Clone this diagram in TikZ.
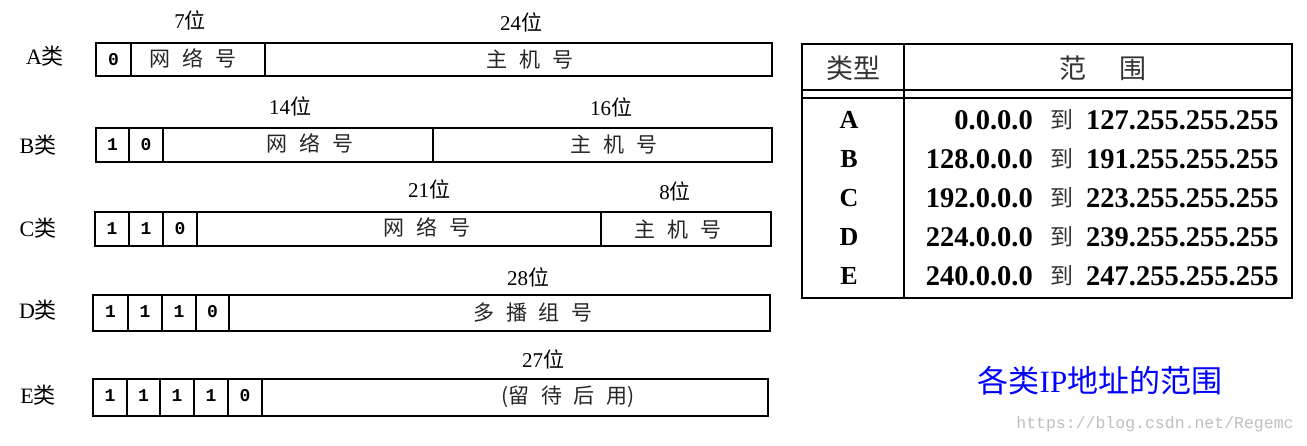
\documentclass[tikz,border=0pt]{standalone}
\usepackage{fontspec}
\setmainfont{Liberation Serif}
\newfontfamily\cjk{Noto Sans CJK SC}
\newfontfamily\monof{Liberation Mono}
\newcommand{\gap}{\hspace{0.55em}}
\begin{document}
\begin{tikzpicture}[x=1pt,y=-1pt,
  rowbox/.style={draw=black,line width=1.8pt},
  celldiv/.style={draw=black,line width=1.3pt},
  bitcell/.style={font=\monof\bfseries\fontsize{18}{18}\selectfont,inner sep=0pt},
  bitlbl/.style={font=\fontsize{21}{21}\selectfont,inner sep=0pt},
  fieldtxt/.style={font=\cjk\fontsize{21}{21}\selectfont,inner sep=0pt,text=black!85},
  classlbl/.style={font=\fontsize{22}{22}\selectfont,inner sep=0pt},
  tabline/.style={draw=black,line width=2.4pt},
  tabhead/.style={font=\cjk\fontsize{27}{27}\selectfont,inner sep=0pt,text=black!80},
  tabletter/.style={font=\bfseries\fontsize{26}{26}\selectfont,inner sep=0pt},
  tabnum/.style={font=\bfseries\fontsize{28.5}{28.5}\selectfont,inner sep=0pt},
  tabto/.style={font=\cjk\fontsize{23}{23}\selectfont,inner sep=0pt,text=black!80}
]
\useasboundingbox (0,0) rectangle (1307,445);
\fill[white] (0,0) rectangle (1307,445);

% ---------- Class labels ----------
\node[classlbl] (lA) at (45,56) {A{\cjk 类}};
\node[classlbl] (lB) at (38,145) {B{\cjk 类}};
\node[classlbl] (lC) at (38,228) {C{\cjk 类}};
\node[classlbl] (lD) at (38,310) {D{\cjk 类}};
\node[classlbl] (lE) at (38,395) {E{\cjk 类}};

% ---------- Row A ----------
\draw[rowbox] (96,43) rectangle (772,76);
\draw[celldiv] (131,43) -- (131,76);
\draw[celldiv] (265,43) -- (265,76);
\node[bitcell] (a1) at (113.5,59.5) {0};
\node[fieldtxt] (aN) at (193,58) {网\gap 络\gap 号};
\node[fieldtxt] (aH) at (530,60) {主\gap 机\gap 号};
\node[bitlbl] (a7) at (190,20) {7{\cjk 位}};
\node[bitlbl] (a24) at (521,22) {24{\cjk 位}};

% ---------- Row B ----------
\draw[rowbox] (96,128) rectangle (772,162);
\draw[celldiv] (129,128) -- (129,162);
\draw[celldiv] (163,128) -- (163,162);
\draw[celldiv] (433,128) -- (433,162);
\node[bitcell] (b1) at (112.5,145) {1};
\node[bitcell] (b2) at (146,145) {0};
\node[fieldtxt] (bN) at (310,143) {网\gap 络\gap 号};
\node[fieldtxt] (bH) at (614,145) {主\gap 机\gap 号};
\node[bitlbl] (b14) at (290,106) {14{\cjk 位}};
\node[bitlbl] (b16) at (611,107) {16{\cjk 位}};

% ---------- Row C ----------
\draw[rowbox] (95,212) rectangle (771,246);
\draw[celldiv] (129,212) -- (129,246);
\draw[celldiv] (163,212) -- (163,246);
\draw[celldiv] (197,212) -- (197,246);
\draw[celldiv] (601,212) -- (601,246);
\node[bitcell] (c1) at (112,229) {1};
\node[bitcell] (c2) at (146,229) {1};
\node[bitcell] (c3) at (180,229) {0};
\node[fieldtxt] (cN) at (427,227) {网\gap 络\gap 号};
\node[fieldtxt] (cH) at (678,230) {主\gap 机\gap 号};
\node[bitlbl] (c21) at (429,189) {21{\cjk 位}};
\node[bitlbl] (c8) at (675,191) {8{\cjk 位}};

% ---------- Row D ----------
\draw[rowbox] (93,295) rectangle (770,331);
\draw[celldiv] (128,295) -- (128,331);
\draw[celldiv] (162,295) -- (162,331);
\draw[celldiv] (196,295) -- (196,331);
\draw[celldiv] (229,295) -- (229,331);
\node[bitcell] (d1) at (110.5,312) {1};
\node[bitcell] (d2) at (145,312) {1};
\node[bitcell] (d3) at (179,312) {1};
\node[bitcell] (d4) at (212.5,312) {0};
\node[fieldtxt] (dN) at (533,313) {多\gap 播\gap 组\gap 号};
\node[bitlbl] (d28) at (528,277) {28{\cjk 位}};

% ---------- Row E ----------
\draw[rowbox] (93,379) rectangle (768,416);
\draw[celldiv] (127,379) -- (127,416);
\draw[celldiv] (160,379) -- (160,416);
\draw[celldiv] (194,379) -- (194,416);
\draw[celldiv] (228,379) -- (228,416);
\draw[celldiv] (262,379) -- (262,416);
\node[bitcell] (e1) at (110,396) {1};
\node[bitcell] (e2) at (143.5,396) {1};
\node[bitcell] (e3) at (177,396) {1};
\node[bitcell] (e4) at (211,396) {1};
\node[bitcell] (e5) at (245,396) {0};
\node[fieldtxt] (eN) at (568,397) {({\cjk 留\gap 待\gap 后\gap 用})};
\node[bitlbl] (e27) at (543,359) {27{\cjk 位}};

% ---------- Table ----------
\draw[tabline] (802,44) rectangle (1292,298);
\draw[tabline] (904,44) -- (904,298);
\draw[tabline] (802,90) -- (1292,90);
\draw[tabline] (802,98) -- (1292,98);
\node[tabhead] (hT) at (853,68) {类型};
\node[tabhead] (hR) at (1103,68) {范\hspace{1.2em}围};

\foreach \L/\S/\E/\Y in {A/0.0.0.0/127.255.255.255/120,
                         B/128.0.0.0/191.255.255.255/159,
                         C/192.0.0.0/223.255.255.255/198,
                         D/224.0.0.0/239.255.255.255/237,
                         E/240.0.0.0/247.255.255.255/276}{
  \node[tabletter] (t\L) at (849,\Y) {\L};
  \node[tabnum,anchor=east] (s\L) at (1033,\Y) {\S};
  \node[tabto] (to\L) at (1062,\Y) {到};
  \node[tabnum,anchor=west] (x\L) at (1086,\Y) {\E};
}

% ---------- Caption ----------
\node[font=\cjk\fontsize{31}{31}\selectfont,text={rgb,255:red,0;green,0;blue,255},inner sep=0pt] (cap) at (1100,381)
  {各类{\rmfamily IP}地址的范围};
\node[font=\monof\fontsize{16.5}{16.5}\selectfont,text=black!25,inner sep=0pt] (wm) at (1155,424)
  {https://blog.csdn.net/Regemc};
\end{tikzpicture}
\end{document}
